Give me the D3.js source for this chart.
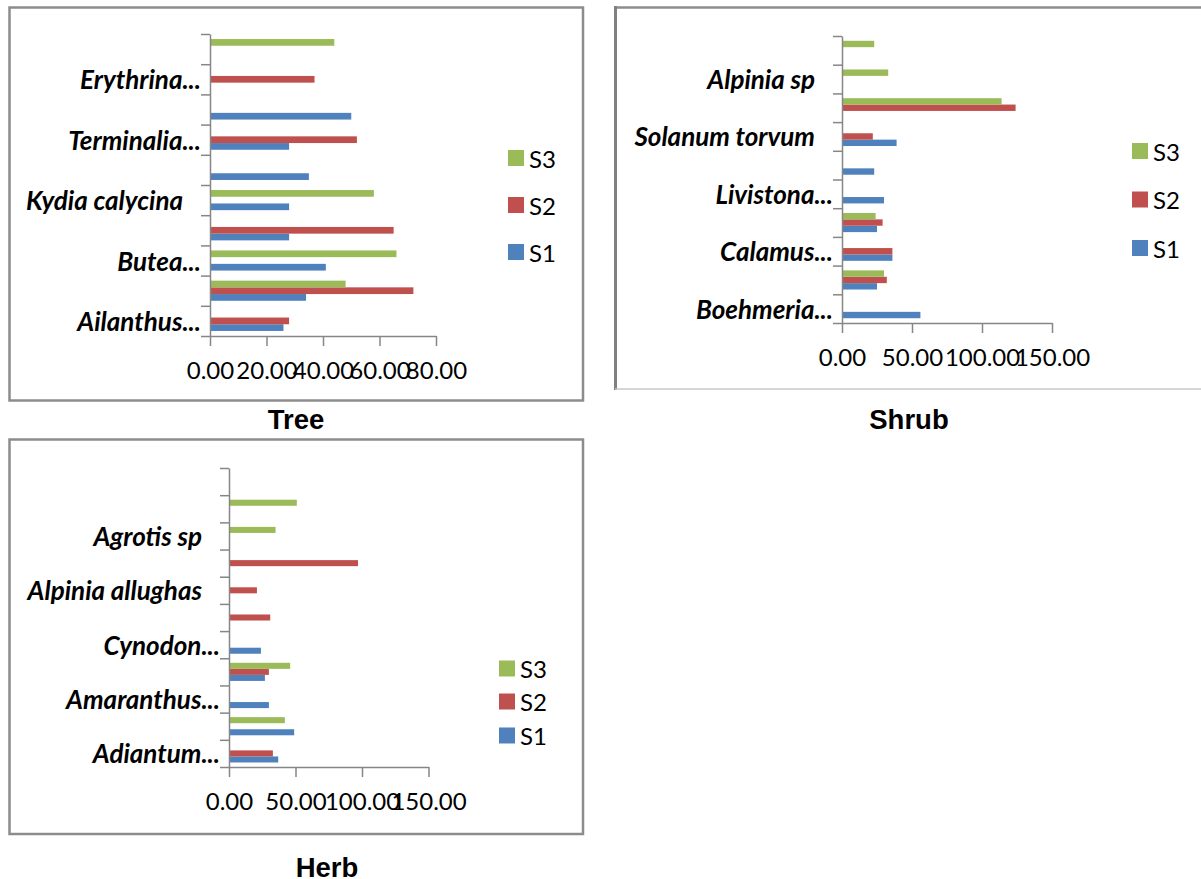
<!DOCTYPE html>
<html>
<head>
<meta charset="utf-8">
<script src="https://cdn.jsdelivr.net/npm/d3@7"></script>
<style>
  html, body { margin: 0; padding: 0; background: #ffffff; }
  svg { display: block; }
</style>
</head>
<body>
<svg id="chart" width="1201" height="879"></svg>
<script>
// ---------- DATA ----------
const seriesNames = ["S1", "S2", "S3"];

const treeCategories = ["Ailanthus...", "", "Butea...", "", "Kydia calycina", "", "Terminalia...", "", "Erythrina...", ""];
const treeS1 = [26, 34, 41, 28, 28, 35, 28, 50, 0, 0];
const treeS2 = [28, 72, 0, 65, 0, 0, 52, 0, 37, 0];
const treeS3 = [0, 48, 66, 0, 58, 0, 0, 0, 0, 44];
const treeTicks = [0, 20, 40, 60, 80];

const shrubCategories = ["Boehmeria...", "", "Calamus...", "", "Livistona...", "", "Solanum torvum", "", "Alpinia sp", ""];
const shrubS1 = [56, 25, 36, 25, 30, 23, 39, 0, 0, 0];
const shrubS2 = [0, 32, 36, 29, 0, 0, 22, 124, 0, 0];
const shrubS3 = [0, 30, 0, 24, 0, 0, 0, 114, 33, 23];
const shrubTicks = [0, 50, 100, 150];

const herbCategories = ["Adiantum...", "", "Amaranthus...", "", "Cynodon...", "", "Alpinia allughas", "", "Agrotis sp", "", ""];
const herbS1 = [37, 49, 30, 27, 24, 0, 0, 0, 0, 0, 0];
const herbS2 = [33, 0, 0, 30, 0, 31, 21, 97, 0, 0, 0];
const herbS3 = [0, 42, 0, 46, 0, 0, 0, 0, 35, 51, 0];
const herbTicks = [0, 50, 100, 150];

const colors = { S1: "#4F81BD", S2: "#C0504D", S3: "#9BBB59" };

// ---------- LAYOUT ----------
const svg = d3.select("#chart");
const tickFont = "Lato, 'Open Sans', sans-serif";
const axisColor = "#868686";

function drawChart(cfg, cats, s1, s2, s3, ticks) {
  const g = svg.append("g");
  const n = cats.length;
  const series = [
    { key: "S1", values: s1 },
    { key: "S2", values: s2 },
    { key: "S3", values: s3 }
  ];

  const x = d3.scaleLinear().domain([ticks[0], ticks[ticks.length - 1]]).range([cfg.x0, cfg.x1]);
  const yBand = d3.scaleBand().domain(d3.range(n)).range([cfg.yBottom, cfg.yTop]);
  const ySub = d3.scaleBand().domain(["S3", "S2", "S1"]).range([0, yBand.bandwidth()])
    .paddingInner(0).paddingOuter(0.75);
  const yEdge = d3.scaleLinear().domain([0, n]).range([cfg.yBottom, cfg.yTop]);

  // bars
  series.forEach(s => {
    g.append("g").selectAll("rect")
      .data(s.values.map((v, i) => ({ v, i })).filter(d => d.v > 0))
      .join("rect")
      .attr("x", x(0))
      .attr("y", d => yBand(d.i) + ySub(s.key))
      .attr("width", d => x(d.v) - x(0))
      .attr("height", ySub.bandwidth())
      .attr("fill", colors[s.key]);
  });

  // y axis (ticks at category boundaries)
  const yAxis = g.append("g")
    .attr("transform", `translate(${cfg.x0},0)`)
    .call(d3.axisLeft(yEdge).tickValues(d3.range(n + 1)).tickSize(9).tickSizeOuter(0).tickFormat(""));
  yAxis.selectAll("path, line").attr("stroke", axisColor).attr("stroke-width", 1.5);

  // category labels
  g.append("g").selectAll("text")
    .data(cats.map((c, i) => ({ c, i })).filter(d => d.c !== ""))
    .join("text")
    .attr("x", d => cfg.x0 - (d.c.endsWith("...") ? 9 : 27))
    .attr("y", d => yBand(d.i) + yBand.bandwidth() / 2)
    .attr("text-anchor", "end")
    .attr("dominant-baseline", "central")
    .attr("font-family", tickFont)
    .attr("font-style", "italic")
    .attr("font-weight", "bold")
    .attr("font-size", 26)
    .attr("fill", "#000")
    .text(d => d.c);

  // x axis
  const xAxis = g.append("g")
    .attr("transform", `translate(0,${cfg.yBottom})`)
    .call(d3.axisBottom(x).tickValues(ticks).tickSize(10).tickSizeOuter(0).tickFormat(d3.format(".2f")));
  xAxis.selectAll("path, line").attr("stroke", axisColor).attr("stroke-width", 1.5);
  xAxis.selectAll("text")
    .attr("y", 35).attr("dy", "0.35em")
    .attr("font-family", tickFont)
    .attr("font-size", 24)
    .attr("fill", "#000");

  // legend
  const leg = g.append("g");
  ["S3", "S2", "S1"].forEach((k, j) => {
    const cy = cfg.legendY[j];
    leg.append("rect")
      .attr("x", cfg.legendX).attr("y", cy - 8)
      .attr("width", 16).attr("height", 16)
      .attr("fill", colors[k]);
    leg.append("text")
      .attr("x", cfg.legendX + 21).attr("y", cy)
      .attr("dominant-baseline", "central")
      .attr("font-family", tickFont)
      .attr("font-size", 24)
      .attr("fill", "#000")
      .text(k);
  });

  // title
  svg.append("text")
    .attr("x", cfg.titleX).attr("y", cfg.titleY)
    .attr("text-anchor", "middle")
    .attr("font-family", "'Liberation Sans', Arial, sans-serif")
    .attr("font-weight", "bold")
    .attr("font-size", 27.5)
    .attr("fill", "#000")
    .text(cfg.title);
}

// frames
svg.append("rect").attr("x", 9.5).attr("y", 7.5).attr("width", 573.5).attr("height", 393)
  .attr("fill", "none").attr("stroke", "#8c8c8c").attr("stroke-width", 2.5);
svg.append("rect").attr("x", 9.5).attr("y", 439.5).attr("width", 573.5).attr("height", 394.5)
  .attr("fill", "none").attr("stroke", "#8c8c8c").attr("stroke-width", 2.5);
svg.append("line").attr("x1", 614).attr("x2", 1201).attr("y1", 7.5).attr("y2", 7.5)
  .attr("stroke", "#8c8c8c").attr("stroke-width", 2.5);
svg.append("line").attr("x1", 615.5).attr("x2", 615.5).attr("y1", 6).attr("y2", 390)
  .attr("stroke", "#808080").attr("stroke-width", 3);
svg.append("line").attr("x1", 615).attr("x2", 1201).attr("y1", 389).attr("y2", 389)
  .attr("stroke", "#c8c8c8").attr("stroke-width", 1.5);

drawChart({ x0: 210, x1: 436, yBottom: 336, yTop: 34, legendX: 508, legendY: [158, 205, 252],
  title: "Tree", titleX: 296, titleY: 429 }, treeCategories, treeS1, treeS2, treeS3, treeTicks);
drawChart({ x0: 842, x1: 1052, yBottom: 323, yTop: 36, legendX: 1132, legendY: [151, 199.5, 248],
  title: "Shrub", titleX: 909, titleY: 429 }, shrubCategories, shrubS1, shrubS2, shrubS3, shrubTicks);
drawChart({ x0: 229, x1: 428.5, yBottom: 767, yTop: 468, legendX: 499, legendY: [668.5, 701.5, 735.5],
  title: "Herb", titleX: 327, titleY: 876.5 }, herbCategories, herbS1, herbS2, herbS3, herbTicks);
</script>
</body>
</html>
